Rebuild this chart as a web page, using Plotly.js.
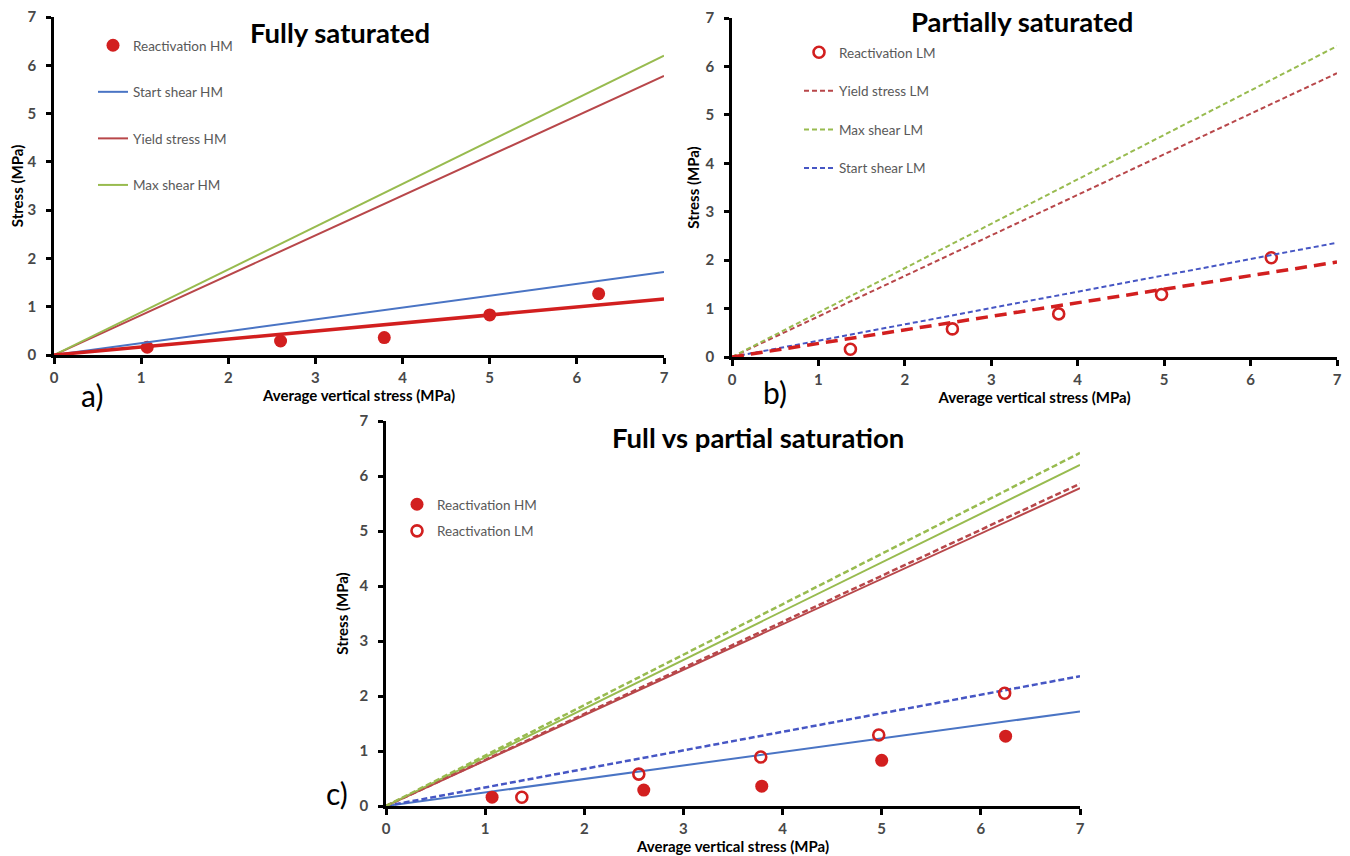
<!DOCTYPE html>
<html>
<head>
<meta charset="utf-8">
<script src="https://cdn.plot.ly/plotly-3.0.1.min.js"></script>
<style>html,body{margin:0;padding:0;background:#fff;}#chart{width:1350px;height:856px;}</style>
</head>
<body>
<div id="chart"></div>
<script>
// ---- data ----
const xReactHM = [1.07, 2.60, 3.79, 5.00, 6.25];
const yReactHM = [0.16, 0.29, 0.36, 0.83, 1.27];
const xReactLM = [1.37, 2.55, 3.78, 4.97, 6.24];
const yReactLM = [0.16, 0.58, 0.89, 1.29, 2.05];
const lineX = [0, 7];
const startShearHM = [0, 1.72];
const yieldStressHM = [0, 5.78];
const maxShearHM = [0, 6.20];
const startShearLM = [0, 2.36];
const yieldStressLM = [0, 5.86];
const maxShearLM = [0, 6.42];
const trendHM = [0, 1.16];
const trendLM = [0, 1.96];
const axisTicks = [0, 1, 2, 3, 4, 5, 6, 7];
const panelTitles = ['Fully saturated', 'Partially saturated', 'Full vs partial saturation'];
const panelLabels = ['a)', 'b)', 'c)'];
const xTitle = 'Average vertical stress (MPa)';
const yTitle = 'Stress (MPa)';

// ---- styles ----
const RED = '#d21f1f';
const BLUE = '#4a74c4';
const BLUE_D = '#4656c4';
const BROWN = '#b8474a';
const GREEN = '#98bb4f';
const FONT = 'Lato, "Open Sans", sans-serif';

function line(x, y, color, dash, width, xa, ya, name, legend, showlegend) {
  return {type: 'scatter', mode: 'lines', x: x, y: y, name: name,
    line: {color: color, dash: dash, width: width},
    xaxis: xa, yaxis: ya, legend: legend, legendgroup: name + xa,
    showlegend: showlegend, hoverinfo: 'skip'};
}
function pts(x, y, open, xa, ya, name, legend, showlegend) {
  return {type: 'scatter', mode: 'markers', x: x, y: y, name: name,
    marker: open ? {symbol: 'circle-open', size: 11, color: RED, line: {width: 2.6, color: RED}}
                 : {symbol: 'circle', size: 13, color: RED},
    xaxis: xa, yaxis: ya, legend: legend, legendgroup: name + xa,
    showlegend: showlegend, cliponaxis: false};
}

const data = [
  // panel a
  pts(xReactHM, yReactHM, false, 'x', 'y', 'Reactivation HM', 'legend', true),
  line(lineX, startShearHM, BLUE, 'solid', 2, 'x', 'y', 'Start shear HM', 'legend', true),
  line(lineX, yieldStressHM, BROWN, 'solid', 2, 'x', 'y', 'Yield stress HM', 'legend', true),
  line(lineX, maxShearHM, GREEN, 'solid', 2, 'x', 'y', 'Max shear HM', 'legend', true),
  line(lineX, trendHM, RED, 'solid', 3.5, 'x', 'y', 'Trend HM', 'legend', false),
  // panel b
  pts(xReactLM, yReactLM, true, 'x2', 'y2', 'Reactivation LM', 'legend2', true),
  line(lineX, yieldStressLM, BROWN, '5px,3px', 2, 'x2', 'y2', 'Yield stress LM', 'legend2', true),
  line(lineX, maxShearLM, GREEN, '5px,3px', 2, 'x2', 'y2', 'Max shear LM', 'legend2', true),
  line(lineX, startShearLM, BLUE_D, '5px,3px', 2, 'x2', 'y2', 'Start shear LM', 'legend2', true),
  line(lineX, trendLM, RED, '12px,7px', 3.5, 'x2', 'y2', 'Trend LM', 'legend2', false),
  // panel c
  line(lineX, startShearHM, BLUE, 'solid', 2, 'x3', 'y3', 'Start shear HM', 'legend3', false),
  line(lineX, yieldStressHM, BROWN, 'solid', 2, 'x3', 'y3', 'Yield stress HM', 'legend3', false),
  line(lineX, maxShearHM, GREEN, 'solid', 2, 'x3', 'y3', 'Max shear HM', 'legend3', false),
  line(lineX, startShearLM, BLUE_D, '6px,3px', 2.5, 'x3', 'y3', 'Start shear LM', 'legend3', false),
  line(lineX, yieldStressLM, BROWN, '6px,3px', 2.5, 'x3', 'y3', 'Yield stress LM', 'legend3', false),
  line(lineX, maxShearLM, GREEN, '6px,3px', 2.5, 'x3', 'y3', 'Max shear LM', 'legend3', false),
  pts(xReactHM, yReactHM, false, 'x3', 'y3', 'Reactivation HM', 'legend3', true),
  pts(xReactLM, yReactLM, true, 'x3', 'y3', 'Reactivation LM', 'legend3', true)
];

const W = 1350, H = 856;
function xdom(l, r) { return [l / W, r / W]; }
function ydom(b, t) { return [(H - b) / H, (H - t) / H]; }

function xaxis(dom, anchor, standoff) {
  return {domain: dom, anchor: anchor, range: [0, 7], tickvals: axisTicks, ticktext: axisTicks.map(String),
    showgrid: false, zeroline: false, showline: true, linecolor: '#000', linewidth: 3,
    ticks: 'outside', ticklen: 6, tickwidth: 2.5, tickcolor: '#000', ticklabelstandoff: 1,
    tickfont: {family: FONT, size: 15, color: '#484848', weight: 700},
    title: {text: xTitle, standoff: standoff, font: {family: FONT, size: 15, color: '#000', weight: 700}},
    fixedrange: true};
}
function yaxis(dom, anchor, standoff) {
  return {domain: dom, anchor: anchor, range: [0, 7], tickvals: axisTicks, ticktext: axisTicks.map(String),
    showgrid: false, zeroline: false, showline: true, linecolor: '#000', linewidth: 2.5,
    ticks: 'outside', ticklen: 5, tickwidth: 2.5, tickcolor: '#000', ticklabelstandoff: 7,
    tickfont: {family: FONT, size: 15, color: '#484848', weight: 700},
    title: {text: yTitle, standoff: standoff, font: {family: FONT, size: 15, color: '#000', weight: 700}},
    fixedrange: true};
}

const legendFont = {family: FONT, size: 13.5, color: '#595959'};
function ann(text, x, y, size, weight) {
  return {text: text, x: x / W, y: (H - y) / H, xref: 'paper', yref: 'paper', showarrow: false,
    xanchor: 'center', yanchor: 'middle',
    font: {family: FONT, size: size, color: '#000', weight: weight}};
}
const layout = {
  width: W, height: H,
  margin: {l: 0, r: 0, t: 0, b: 0},
  paper_bgcolor: '#fff', plot_bgcolor: 'rgba(0,0,0,0)',
  showlegend: true,
  font: {family: FONT},
  xaxis: xaxis(xdom(54, 664), 'y', 0),
  yaxis: yaxis(ydom(355, 17), 'x', 1),
  xaxis2: xaxis(xdom(732, 1337), 'y2', 1),
  yaxis2: yaxis(ydom(357, 18), 'x2', 3),
  xaxis3: xaxis(xdom(386, 1080), 'y3', 5),
  yaxis3: yaxis(ydom(806, 421), 'x3', 8),
  legend: {x: 93 / W, y: (H - 30) / H, xanchor: 'left', yanchor: 'top', bgcolor: 'rgba(0,0,0,0)',
    font: legendFont, traceorder: 'grouped', tracegroupgap: 26, itemclick: false, itemdoubleclick: false},
  legend2: {x: 799 / W, y: (H - 37) / H, xanchor: 'left', yanchor: 'top', bgcolor: 'rgba(0,0,0,0)',
    font: legendFont, traceorder: 'grouped', tracegroupgap: 18, itemclick: false, itemdoubleclick: false},
  legend3: {x: 397 / W, y: (H - 489) / H, xanchor: 'left', yanchor: 'top', bgcolor: 'rgba(0,0,0,0)',
    font: legendFont, traceorder: 'grouped', tracegroupgap: 6, itemclick: false, itemdoubleclick: false},
  annotations: [
    ann(panelTitles[0], 340, 32, 27.5, 700),
    ann(panelTitles[1], 1022, 22, 27.5, 700),
    ann(panelTitles[2], 758, 437, 27.5, 700),
    ann(panelLabels[0], 92, 395, 30, 400),
    ann(panelLabels[1], 775, 392, 30, 400),
    ann(panelLabels[2], 337, 793, 30, 400)
  ]
};

Plotly.newPlot('chart', data, layout, {displayModeBar: false, responsive: false});
</script>
</body>
</html>
